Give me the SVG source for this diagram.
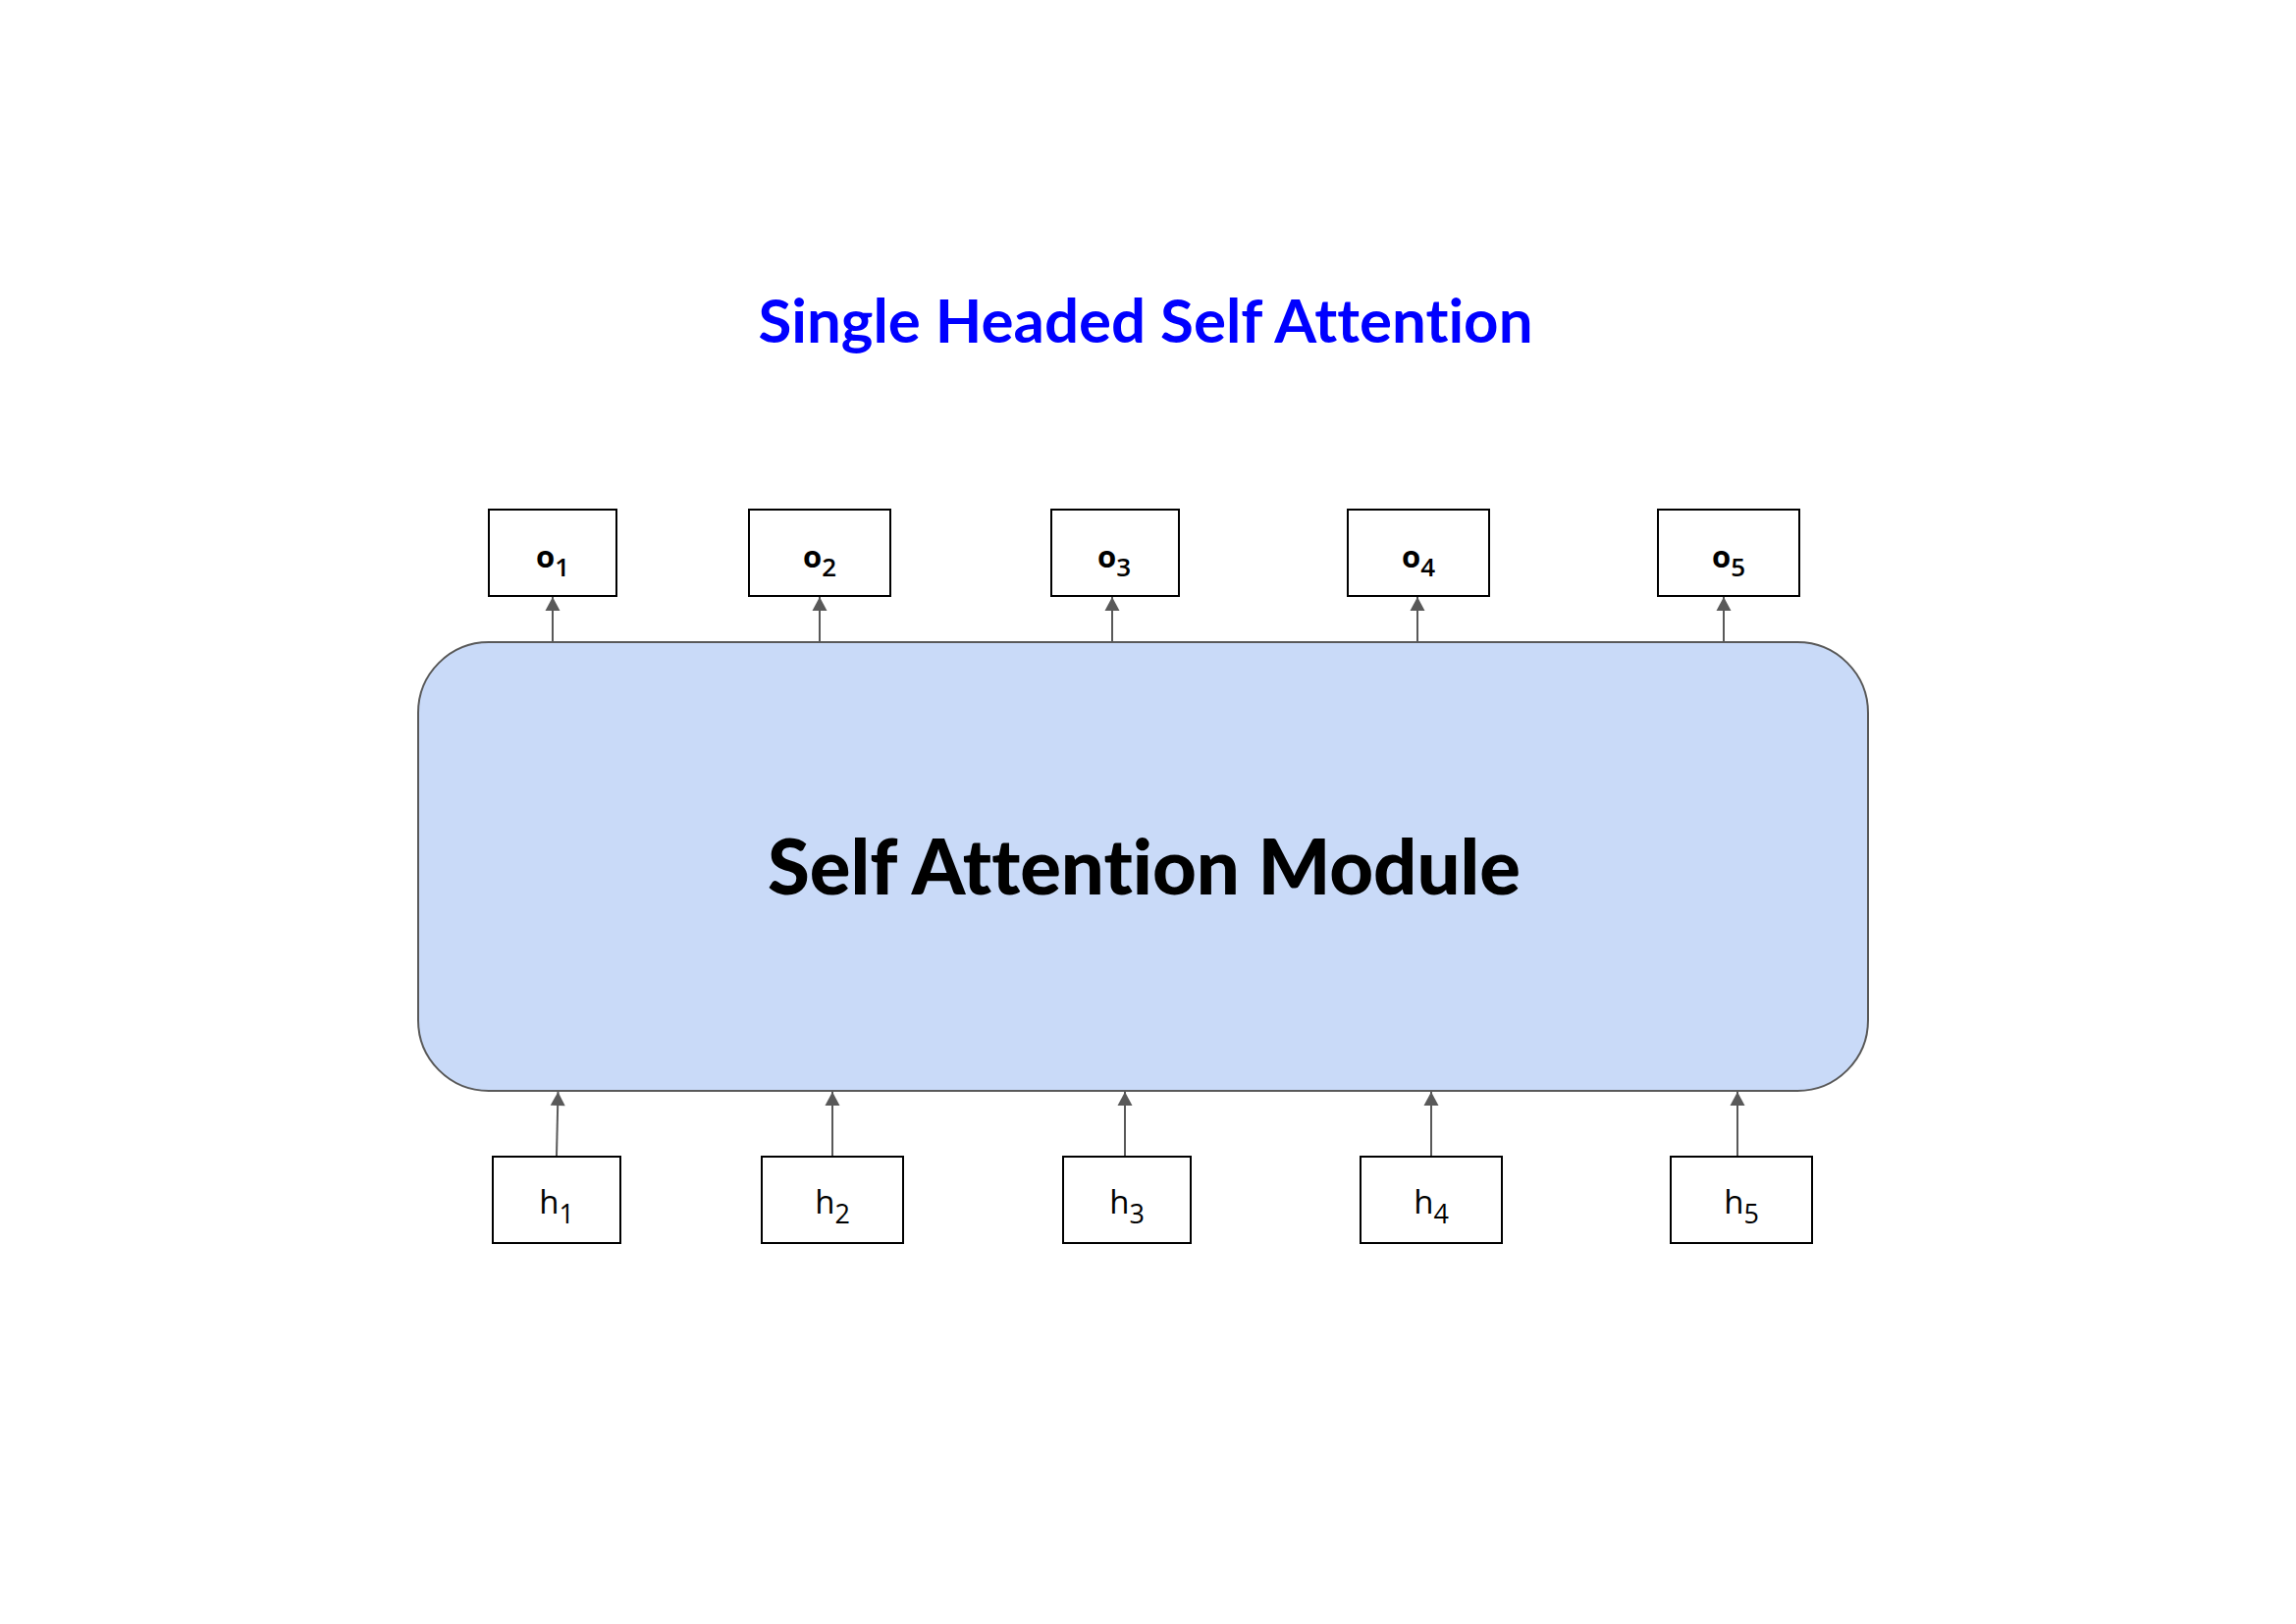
<svg xmlns="http://www.w3.org/2000/svg" width="2339" height="1654" viewBox="0 0 2339 1654">
  <style>
    text { font-variant-ligatures: none; font-feature-settings: "liga" 0, "clig" 0; }
    .box { fill: #ffffff; stroke: #000000; stroke-width: 2; }
    .module { fill: #c9daf8; stroke: #595959; stroke-width: 2; }
    .conn { stroke: #595959; stroke-width: 2; fill: none; marker-end: url(#arrow); }
    .olab { font-family: "Open Sans", "Noto Sans", sans-serif; font-weight: bold; font-size: 31px; fill: #000000; text-anchor: middle; }
    .hlab { font-family: "Open Sans", "Noto Sans", sans-serif; font-weight: normal; font-size: 33px; fill: #000000; text-anchor: middle; }
    .sub { font-weight: 600; font-size: 26px; }
    .hsub { font-size: 27px; }
    .title { font-family: Lato, "Open Sans", sans-serif; font-weight: bold; font-size: 61px; fill: #0000ff; text-anchor: middle; }
    .mtext { font-family: Lato, "Open Sans", sans-serif; font-weight: 900; font-size: 78px; fill: #000000; text-anchor: middle; }
  </style>
  <defs>
    <marker id="arrow" markerUnits="userSpaceOnUse" markerWidth="16" markerHeight="16" viewBox="0 0 14 16" refX="14" refY="8" orient="auto">
      <path d="M0,0.5 L14,8 L0,15.5 Z" fill="#595959"/>
    </marker>
  </defs>
  <rect width="2339" height="1654" fill="#ffffff"/>

  <g id="title">
    <text class="title" x="1167" y="349" textLength="789" lengthAdjust="spacingAndGlyphs">Single Headed Self Attention</text>
  </g>

  <g id="module">
    <rect class="module" x="426" y="654" width="1477" height="457" rx="72" ry="72"/>
    <text class="mtext" x="1165.5" y="911" textLength="767" lengthAdjust="spacingAndGlyphs">Self Attention Module</text>
  </g>

  <g id="o1"><rect class="box" x="498" y="519" width="130" height="88"/><text class="olab" x="563" y="578">o<tspan class="sub" dy="9">1</tspan></text></g>
  <g id="o2"><rect class="box" x="763" y="519" width="144" height="88"/><text class="olab" x="835" y="578">o<tspan class="sub" dy="9">2</tspan></text></g>
  <g id="o3"><rect class="box" x="1071" y="519" width="130" height="88"/><text class="olab" x="1135" y="578">o<tspan class="sub" dy="9">3</tspan></text></g>
  <g id="o4"><rect class="box" x="1373" y="519" width="144" height="88"/><text class="olab" x="1445" y="578">o<tspan class="sub" dy="9">4</tspan></text></g>
  <g id="o5"><rect class="box" x="1689" y="519" width="144" height="88"/><text class="olab" x="1761" y="578">o<tspan class="sub" dy="9">5</tspan></text></g>

  <g id="h1"><rect class="box" x="502" y="1178" width="130" height="88"/><text class="hlab" x="567" y="1236">h<tspan class="hsub" dy="10">1</tspan></text></g>
  <g id="h2"><rect class="box" x="776" y="1178" width="144" height="88"/><text class="hlab" x="848" y="1236">h<tspan class="hsub" dy="10">2</tspan></text></g>
  <g id="h3"><rect class="box" x="1083" y="1178" width="130" height="88"/><text class="hlab" x="1148" y="1236">h<tspan class="hsub" dy="10">3</tspan></text></g>
  <g id="h4"><rect class="box" x="1386" y="1178" width="144" height="88"/><text class="hlab" x="1458" y="1236">h<tspan class="hsub" dy="10">4</tspan></text></g>
  <g id="h5"><rect class="box" x="1702" y="1178" width="144" height="88"/><text class="hlab" x="1774" y="1236">h<tspan class="hsub" dy="10">5</tspan></text></g>

  <g id="connectors">
    <line class="conn" x1="563" y1="654" x2="563" y2="608"/>
    <line class="conn" x1="835" y1="654" x2="835" y2="608"/>
    <line class="conn" x1="1133" y1="654" x2="1133" y2="608"/>
    <line class="conn" x1="1444" y1="654" x2="1444" y2="608"/>
    <line class="conn" x1="1756" y1="654" x2="1756" y2="608"/>
    <line class="conn" x1="567" y1="1177" x2="568.5" y2="1112"/>
    <line class="conn" x1="848" y1="1177" x2="848" y2="1112"/>
    <line class="conn" x1="1146" y1="1177" x2="1146" y2="1112"/>
    <line class="conn" x1="1458" y1="1177" x2="1458" y2="1112"/>
    <line class="conn" x1="1770" y1="1177" x2="1770" y2="1112"/>
  </g>
</svg>
